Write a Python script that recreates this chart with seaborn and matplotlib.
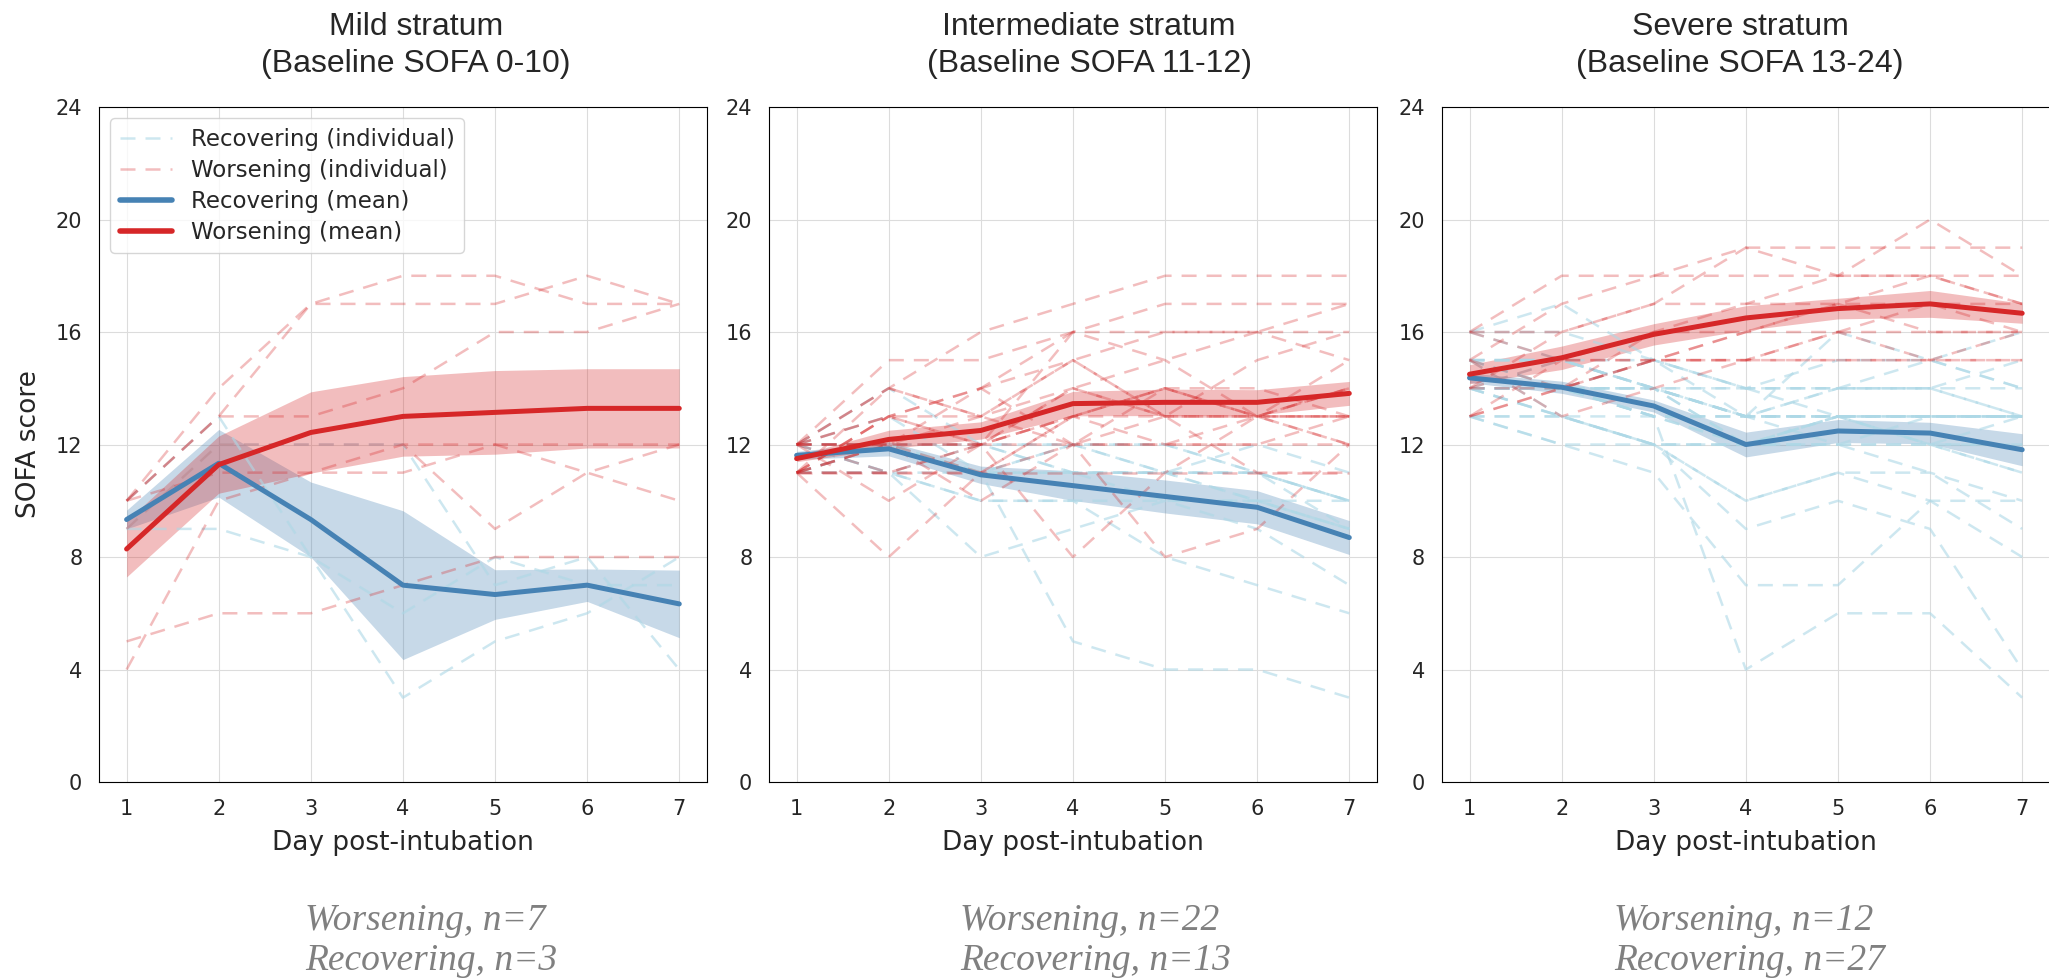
import matplotlib
matplotlib.use("Agg")
import matplotlib.pyplot as plt
from matplotlib.lines import Line2D
import pandas as pd
import seaborn as sns

# ---------------------------------------------------------------------------
# Daily SOFA scores (days 1-7 post-intubation), one row per patient
# ---------------------------------------------------------------------------
days = [1, 2, 3, 4, 5, 6, 7]

strata = ["Mild", "Intermediate", "Severe"]
stratum_titles = [
    ("Mild stratum", "(Baseline SOFA 0-10)"),
    ("Intermediate stratum", "(Baseline SOFA 11-12)"),
    ("Severe stratum", "(Baseline SOFA 13-24)"),
]

mild_worsening = [
    [10, 14, 17, 18, 18, 17, 17],
    [10, 13, 17, 17, 17, 18, 17],
    [10, 13, 13, 14, 16, 16, 17],
    [9, 12, 12, 12, 9, 11, 12],
    [10, 11, 11, 12, 12, 11, 10],
    [5, 6, 6, 7, 8, 8, 8],
    [4, 10, 11, 11, 12, 12, 12],
]
mild_recovering = [
    [9, 9, 8, 3, 5, 6, 8],
    [9, 12, 12, 12, 7, 8, 4],
    [10, 13, 8, 6, 8, 7, 7],
]

intermediate_worsening = [
    [12, 15, 15, 16, 16, 16, 17],
    [12, 14, 16, 17, 18, 18, 18],
    [11, 13, 14, 16, 17, 17, 17],
    [12, 13, 13, 15, 16, 16, 15],
    [11, 12, 12, 14, 15, 16, 16],
    [12, 14, 13, 15, 13, 15, 16],
    [11, 11, 12, 13, 13, 13, 13],
    [12, 12, 13, 14, 13, 13, 14],
    [11, 11, 11, 12, 12, 12, 12],
    [12, 12, 12, 13, 14, 13, 12],
    [11, 11, 11, 11, 11, 11, 11],
    [12, 13, 12, 14, 13, 11, 11],
    [11, 8, 11, 13, 12, 12, 13],
    [12, 10, 12, 8, 11, 13, 14],
    [11, 12, 14, 12, 8, 9, 12],
    [12, 11, 12, 16, 15, 13, 12],
    [11, 14, 13, 12, 14, 14, 13],
    [12, 12, 11, 13, 14, 13, 15],
    [11, 13, 14, 15, 13, 13, 14],
    [12, 12, 10, 12, 12, 13, 13],
    [11, 12, 12, 13, 14, 13, 13],
    [11, 13, 12, 12, 13, 13, 13],
]
intermediate_recovering = [
    [12, 14, 12, 11, 11, 10, 10],
    [12, 12, 11, 5, 4, 4, 3],
    [11, 12, 12, 11, 11, 11, 10],
    [12, 13, 11, 11, 10, 10, 9],
    [12, 11, 10, 10, 8, 7, 6],
    [11, 11, 10, 10, 10, 10, 9],
    [12, 12, 12, 12, 11, 11, 10],
    [12, 11, 8, 9, 10, 9, 7],
    [11, 12, 11, 12, 12, 11, 10],
    [12, 12, 11, 11, 11, 12, 11],
    [11, 11, 12, 12, 11, 11, 9],
    [12, 11, 11, 12, 12, 11, 10],
    [11, 12, 11, 11, 11, 10, 9],
]

severe_worsening = [
    [16, 18, 18, 18, 18, 18, 18],
    [15, 17, 18, 19, 19, 19, 19],
    [14, 16, 17, 19, 18, 20, 18],
    [16, 16, 17, 17, 18, 18, 17],
    [13, 15, 16, 17, 17, 18, 17],
    [15, 14, 16, 16, 17, 17, 17],
    [14, 15, 15, 16, 16, 17, 16],
    [16, 15, 15, 15, 16, 16, 16],
    [13, 14, 15, 15, 15, 15, 15],
    [15, 13, 14, 15, 15, 15, 15],
    [14, 14, 15, 16, 17, 16, 16],
    [13, 14, 15, 15, 16, 15, 16],
]
severe_recovering = [
    [16, 17, 15, 14, 13, 13, 13],
    [16, 16, 15, 14, 15, 15, 14],
    [15, 15, 15, 14, 14, 14, 14],
    [15, 15, 14, 13, 14, 14, 15],
    [15, 14, 14, 13, 13, 13, 13],
    [15, 14, 15, 13, 16, 15, 16],
    [14, 14, 13, 13, 13, 13, 13],
    [14, 14, 14, 13, 13, 13, 13],
    [14, 13, 12, 12, 12, 12, 12],
    [14, 14, 13, 13, 13, 13, 13],
    [14, 15, 14, 14, 14, 15, 14],
    [15, 13, 12, 10, 11, 10, 10],
    [14, 14, 13, 4, 6, 6, 3],
    [13, 12, 11, 7, 7, 10, 8],
    [14, 14, 14, 12, 13, 12, 12],
    [13, 13, 12, 10, 11, 11, 10],
    [15, 15, 14, 13, 13, 12, 13],
    [14, 13, 13, 12, 12, 12, 11],
    [13, 13, 12, 12, 12, 11, 9],
    [15, 14, 14, 14, 14, 14, 13],
    [14, 14, 13, 13, 12, 13, 13],
    [13, 12, 12, 9, 10, 9, 4],
    [15, 15, 14, 13, 13, 13, 13],
    [14, 14, 13, 12, 13, 13, 13],
    [16, 15, 14, 13, 14, 14, 13],
    [14, 14, 14, 12, 13, 13, 13],
    [14, 13, 12, 12, 13, 12, 11],
]

cohorts = {
    ("Mild", "Worsening"): mild_worsening,
    ("Mild", "Recovering"): mild_recovering,
    ("Intermediate", "Worsening"): intermediate_worsening,
    ("Intermediate", "Recovering"): intermediate_recovering,
    ("Severe", "Worsening"): severe_worsening,
    ("Severe", "Recovering"): severe_recovering,
}

# Long-form table: one row per patient-day
records = []
for (stratum, group), patients in cohorts.items():
    for pid, scores in enumerate(patients):
        for day, score in zip(days, scores):
            records.append({"stratum": stratum, "group": group,
                            "patient": f"{stratum}-{group}-{pid}",
                            "day": day, "sofa": score})
df = pd.DataFrame(records)

# ---------------------------------------------------------------------------
# Styling
# ---------------------------------------------------------------------------
sns.set_style("whitegrid", rc={
    "axes.edgecolor": "black",
    "axes.linewidth": 1.3,
    "grid.color": "#dcdcdc",
    "grid.linewidth": 1.2,
})
plt.rcParams["font.family"] = ["DejaVu Sans"]

MEAN_COLORS = {"Recovering": "steelblue", "Worsening": "#d62728"}
IND_STYLE = {
    "Recovering": dict(color="lightblue", alpha=0.6),
    "Worsening": dict(color="#d62728", alpha=0.3),
}
DASH = (0, (6, 4))
IND_LW = 1.8

fig = plt.figure(figsize=(20.49, 9.8), dpi=100)
lefts = [0.0483, 0.3753, 0.7037]
axes = [fig.add_axes([l, 0.2020, 0.2967, 0.6888]) for l in lefts]

title_x = [0.2030, 0.5315, 0.8492]
note_x = [0.1489, 0.4685, 0.7877]

for i, (ax, stratum) in enumerate(zip(axes, strata)):
    sub = df[df["stratum"] == stratum]

    # individual patient trajectories
    for group in ["Recovering", "Worsening"]:
        sns.lineplot(data=sub[sub["group"] == group], x="day", y="sofa",
                     units="patient", estimator=None, linewidth=IND_LW,
                     linestyle=DASH, legend=False, ax=ax,
                     **IND_STYLE[group])

    # group means with standard-error bands
    for group in ["Recovering", "Worsening"]:
        sns.lineplot(data=sub[sub["group"] == group], x="day", y="sofa",
                     errorbar="se", color=MEAN_COLORS[group], linewidth=3.6,
                     err_kws={"alpha": 0.3, "linewidth": 0},
                     legend=False, ax=ax)

    ax.set_xlim(0.7, 7.3)
    ax.set_ylim(0, 24)
    ax.set_xticks(days)
    ax.set_yticks(range(0, 25, 4))
    ax.tick_params(axis="both", length=6, width=1.2, color="black",
                   labelsize=15, pad=6)
    ax.set_xlabel("Day post-intubation", fontsize=19, labelpad=8)
    if i == 0:
        ax.set_ylabel("SOFA score", fontsize=19, labelpad=10)
    else:
        ax.set_ylabel("")
    for side in ["top", "right", "bottom", "left"]:
        ax.spines[side].set_visible(True)
        ax.spines[side].set_color("black")

    # two-line panel heading
    line1, line2 = stratum_titles[i]
    fig.text(title_x[i], 1 - 35 / 980, line1, ha="center", va="baseline",
             fontsize=23, family="Liberation Sans")
    fig.text(title_x[i], 1 - 72 / 980, line2, ha="center", va="baseline",
             fontsize=23, family="Liberation Sans")

    # cohort sizes
    n_w = len(cohorts[(stratum, "Worsening")])
    n_r = len(cohorts[(stratum, "Recovering")])
    fig.text(note_x[i], 1 - 930 / 980, f"Worsening, n={n_w}", ha="left",
             va="baseline", fontsize=27, family="Liberation Serif",
             style="italic", color="grey")
    fig.text(note_x[i], 1 - 970 / 980, f"Recovering, n={n_r}", ha="left",
             va="baseline", fontsize=27, family="Liberation Serif",
             style="italic", color="grey")

handles = [
    Line2D([], [], linewidth=IND_LW, linestyle=DASH, **IND_STYLE["Recovering"],
           label="Recovering (individual)"),
    Line2D([], [], linewidth=IND_LW, linestyle=DASH, **IND_STYLE["Worsening"],
           label="Worsening (individual)"),
    Line2D([], [], linewidth=4, color=MEAN_COLORS["Recovering"],
           label="Recovering (mean)"),
    Line2D([], [], linewidth=4, color=MEAN_COLORS["Worsening"],
           label="Worsening (mean)"),
]
axes[0].legend(handles=handles, loc="upper left", fontsize=16.5,
               handlelength=2.3, labelspacing=0.35, frameon=True)

fig.savefig("out.png", dpi=100)
